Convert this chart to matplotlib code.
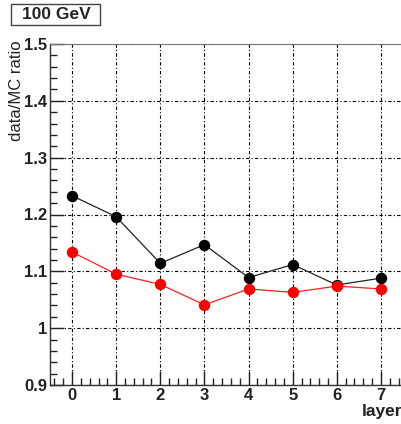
import matplotlib
matplotlib.use("Agg")
import matplotlib.pyplot as plt
from matplotlib.ticker import MultipleLocator
from matplotlib.patches import Rectangle

layers = [0, 1, 2, 3, 4, 5, 6, 7]
black_vals = [1.233, 1.196, 1.114, 1.147, 1.089, 1.112, 1.076, 1.088]
red_vals = [1.134, 1.095, 1.077, 1.041, 1.069, 1.063, 1.074, 1.069]
title_text = "100 GeV"
ylabel_text = "data/MC ratio"
xlabel_text = "layer"

plt.rcParams['font.family'] = ['Liberation Sans', 'DejaVu Sans']

fig = plt.figure(figsize=(4.02, 4.24), dpi=100)
ax = fig.add_axes([50/402, 39/424, 353/402, 341/424])

ax.plot(layers, black_vals, color='#222222', lw=0.9, marker='o', ms=7.2,
        mfc='black', mec='black', zorder=3)
ax.plot(layers, red_vals, color='#ff2020', lw=0.9, marker='o', ms=7.2,
        mfc='#ff0000', mec='#ff0000', zorder=3)

ax.set_xlim(-0.5, 7.5)
ax.set_ylim(0.9, 1.5)
ax.xaxis.set_major_locator(MultipleLocator(1))
ax.xaxis.set_minor_locator(MultipleLocator(0.2))
ax.yaxis.set_minor_locator(MultipleLocator(0.02))
ax.set_yticks([0.9, 1.0, 1.1, 1.2, 1.3, 1.4, 1.5])
ax.set_yticklabels(["0.9", "1", "1.1", "1.2", "1.3", "1.4", "1.5"])

ax.tick_params(which='both', direction='in', top=False, right=False,
               labelsize=12, colors='#222222', width=1)
ax.tick_params(which='major', length=10, pad=2)
ax.tick_params(which='minor', length=5)
for lab in ax.get_xticklabels() + ax.get_yticklabels():
    lab.set_fontweight('bold')

ax.grid(True, which='major', color='black', lw=0.8, linestyle=(0, (3, 2, 1, 2)))
for s in ['top', 'right']:
    ax.spines[s].set_color('#777777')
for s in ['left', 'bottom']:
    ax.spines[s].set_color('#333333')
    ax.spines[s].set_linewidth(1.0)

fig.text(17/402, 1 - 40/424, ylabel_text, rotation=90, ha='center', va='top',
         fontsize=12, color='#222222')
fig.text(1.0, 1 - 419/424, xlabel_text, ha='right', va='bottom',
         fontsize=12.5, fontweight='bold', color='#222222')
fig.patches.append(Rectangle((11/402, 1 - 25/424), 89/402, 21/424,
                             transform=fig.transFigure, fc='white',
                             ec='#444444', lw=1))
fig.text(56/402, 1 - 14.5/424, title_text, ha='center', va='center',
         fontsize=12.5, fontweight='bold', color='#222222')

fig.savefig("out.png", dpi=100)
